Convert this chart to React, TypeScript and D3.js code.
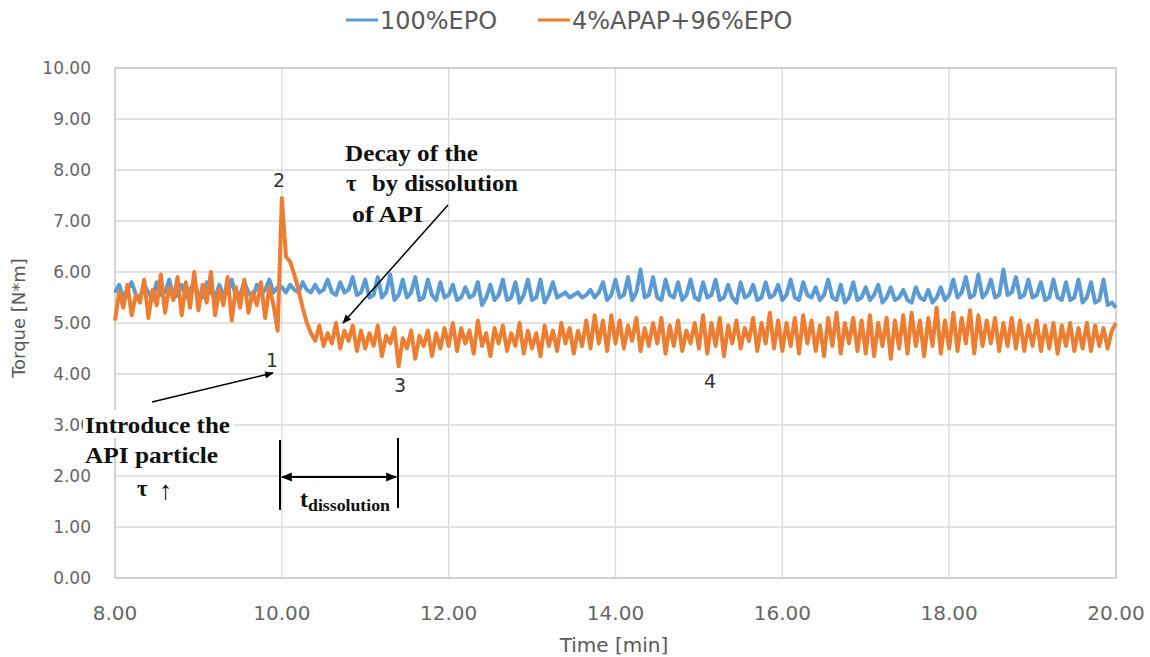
import React from 'react';
import * as d3 from 'd3';

// sampling of both torque traces (minutes)
const startTime = 8;
const timeStep = 0.05;

// 100%EPO torque [N*m], one value every 0.05 min from 8.00 to 20.00
const epoTorque = [
  5.6, 5.75, 5.5, 5.65, 5.8, 5.55, 5.5, 5.75, 5.6, 5.45, 5.8, 5.55, 5.6, 5.85, 5.5, 5.55, 5.75, 5.5, 5.65, 5.8,
  5.55, 5.5, 5.8, 5.6, 5.5, 5.75, 5.55, 5.6, 5.85, 5.5, 5.55, 5.8, 5.6, 5.5, 5.75, 5.55, 5.65, 5.85, 5.6, 5.7,
  5.7, 5.6, 5.75, 5.65, 5.6, 5.8, 5.65, 5.6, 5.75, 5.6, 5.65, 5.85, 5.6, 5.55, 5.8, 5.6, 5.65, 5.9, 5.55, 5.6,
  5.85, 5.5, 5.55, 5.9, 5.5, 5.6, 5.95, 5.45, 5.55, 5.85, 5.5, 5.6, 5.9, 5.45, 5.5, 5.85, 5.55, 5.45, 5.8, 5.5,
  5.55, 5.75, 5.45, 5.5, 5.7, 5.5, 5.55, 5.8, 5.35, 5.5, 5.75, 5.45, 5.55, 5.85, 5.45, 5.5, 5.8, 5.4, 5.55, 5.85,
  5.45, 5.5, 5.85, 5.4, 5.55, 5.8, 5.5, 5.55, 5.6, 5.5, 5.55, 5.6, 5.5, 5.55, 5.65, 5.5, 5.6, 5.8, 5.45, 5.55,
  5.85, 5.5, 5.55, 5.9, 5.45, 5.6, 6.05, 5.5, 5.55, 5.9, 5.5, 5.45, 5.85, 5.55, 5.5, 5.8, 5.45, 5.55, 5.85, 5.5,
  5.45, 5.8, 5.5, 5.55, 5.85, 5.45, 5.5, 5.75, 5.5, 5.4, 5.8, 5.5, 5.55, 5.75, 5.45, 5.5, 5.8, 5.5, 5.55, 5.75,
  5.45, 5.55, 5.85, 5.5, 5.45, 5.8, 5.55, 5.5, 5.7, 5.45, 5.55, 5.85, 5.5, 5.45, 5.75, 5.4, 5.5, 5.8, 5.45, 5.5,
  5.7, 5.45, 5.55, 5.75, 5.4, 5.5, 5.7, 5.45, 5.5, 5.65, 5.45, 5.4, 5.7, 5.5, 5.45, 5.65, 5.4, 5.5, 5.7, 5.45,
  5.55, 5.85, 5.5, 5.6, 5.9, 5.5, 5.55, 5.95, 5.5, 5.6, 5.85, 5.5, 5.55, 6.05, 5.55, 5.6, 5.9, 5.5, 5.55, 5.85,
  5.5, 5.55, 5.8, 5.45, 5.5, 5.85, 5.5, 5.45, 5.8, 5.45, 5.5, 5.85, 5.4, 5.5, 5.8, 5.4, 5.45, 5.85, 5.35, 5.4,
  5.3,
];

// 4%APAP+96%EPO torque [N*m], same sampling
const apapTorque = [
  5.05, 5.6, 5.3, 5.75, 5.15, 5.55, 5.4, 5.85, 5.1, 5.65, 5.35, 5.95, 5.2, 5.7, 5.45, 5.9, 5.15, 5.8, 5.3, 6.0,
  5.25, 5.75, 5.4, 6.0, 5.15, 5.65, 5.35, 5.9, 5.05, 5.7, 5.3, 5.85, 5.2, 5.6, 5.35, 5.8, 5.1, 5.7, 5.35, 4.85,
  7.45, 6.3, 6.2, 5.95, 5.65, 5.3, 5.0, 4.8, 4.65, 4.95, 4.55, 4.8, 4.6, 5.0, 4.5, 4.85, 4.65, 4.95, 4.45, 4.85,
  4.5, 4.8, 4.55, 4.95, 4.35, 4.75, 4.6, 4.9, 4.15, 4.7, 4.5, 4.85, 4.3, 4.75, 4.55, 4.85, 4.35, 4.8, 4.5, 4.9,
  4.55, 5.0, 4.45, 4.9, 4.6, 4.85, 4.4, 5.05, 4.55, 4.8, 4.35, 4.9, 4.6, 4.95, 4.45, 4.8, 4.55, 5.0, 4.4, 4.85,
  4.5, 4.8, 4.35, 4.95, 4.55, 4.85, 4.45, 5.0, 4.6, 4.9, 4.4, 4.85, 4.55, 5.05, 4.5, 5.15, 4.6, 5.05, 4.45, 5.15,
  4.6, 5.05, 4.5, 4.95, 4.65, 5.1, 4.45, 4.9, 4.55, 5.0, 4.6, 5.1, 4.4, 4.95, 4.55, 5.05, 4.45, 4.85, 4.6, 5.0,
  4.5, 5.15, 4.4, 5.0, 4.55, 5.1, 4.35, 4.95, 4.6, 5.05, 4.5, 4.9, 4.65, 5.1, 4.45, 5.0, 4.6, 5.2, 4.5, 5.05,
  4.45, 5.0, 4.55, 5.1, 4.4, 5.15, 4.6, 5.05, 4.45, 4.95, 4.35, 5.1, 4.55, 5.2, 4.4, 5.0, 4.6, 5.1, 4.45, 5.05,
  4.4, 5.15, 4.35, 5.0, 4.55, 5.1, 4.3, 5.05, 4.5, 5.15, 4.4, 5.2, 4.55, 5.05, 4.35, 5.1, 4.55, 5.3, 4.4, 5.05,
  4.5, 5.2, 4.45, 5.1, 4.6, 5.25, 4.4, 5.15, 4.55, 5.05, 4.6, 5.1, 4.45, 5.0, 4.55, 5.1, 4.5, 5.05, 4.45, 4.95,
  4.55, 5.05, 4.45, 4.95, 4.5, 5.0, 4.4, 4.95, 4.55, 5.0, 4.45, 4.9, 4.5, 5.0, 4.45, 4.95, 4.55, 4.9, 4.5, 4.85,
  5.0,
];

const seriesNames = ['100%EPO', '4%APAP+96%EPO'];
const seriesColors = ['#5b9bd5', '#ed7d31'];
const seriesWidths = [4, 4];
const xTickValues = [8, 10, 12, 14, 16, 18, 20];
const yTickValues = [0, 1, 2, 3, 4, 5, 6, 7, 8, 9, 10];

const W = 1150;
const H = 657;
const plot = { left: 115, right: 1116, top: 68, bottom: 578 };

const sansFont = '"DejaVu Sans", sans-serif';
const serifFont = '"Liberation Serif", "Times New Roman", serif';

export default function App() {
  const x = d3.scaleLinear().domain([8, 20]).range([plot.left, plot.right]);
  const y = d3.scaleLinear().domain([0, 10]).range([plot.bottom, plot.top]);

  const line = d3.line<number>()
    .x((_, i) => x(startTime + i * timeStep))
    .y(d => y(d));

  const series = [epoTorque, apapTorque];

  return (
    <svg width={W} height={H} style={{ position: 'absolute', left: 0, top: 0, background: '#fff' }}>
      <defs>
        <marker id="head" viewBox="0 0 10 10" refX="9" refY="5" markerWidth="9" markerHeight="9"
          markerUnits="userSpaceOnUse" orient="auto-start-reverse">
          <path d="M0,1 L10,5 L0,9 z" fill="#000" />
        </marker>
        <marker id="headBig" viewBox="0 0 10 10" refX="9" refY="5" markerWidth="13" markerHeight="11"
          markerUnits="userSpaceOnUse" orient="auto-start-reverse">
          <path d="M0,1 L10,5 L0,9 z" fill="#000" />
        </marker>
      </defs>

      {/* legend */}
      <g fontFamily={sansFont} fontSize={24} fill="#595959">
        {seriesNames.map((name, i) => {
          const lx = i === 0 ? 346 : 538;
          return (
            <g key={name}>
              <line x1={lx} x2={lx + 32} y1={20} y2={20} stroke={seriesColors[i]} strokeWidth={3} />
              <text x={lx + 34} y={29}>{name}</text>
            </g>
          );
        })}
      </g>

      {/* grid */}
      <g stroke="#d9d9d9" strokeWidth={1.3}>
        {yTickValues.map(t => (
          <line key={'h' + t} x1={plot.left} x2={plot.right} y1={y(t)} y2={y(t)} />
        ))}
        {xTickValues.map(t => (
          <line key={'v' + t} x1={x(t)} x2={x(t)} y1={plot.top} y2={plot.bottom} />
        ))}
      </g>
      <rect x={plot.left} y={plot.top} width={plot.right - plot.left} height={plot.bottom - plot.top}
        fill="none" stroke="#c8c8c8" strokeWidth={1.3} />

      {/* tick labels */}
      <g fontFamily={sansFont} fontSize={17} fill="#666" textAnchor="end">
        {yTickValues.map(t => (
          <text key={t} x={91} y={y(t) + 6}>{t.toFixed(2)}</text>
        ))}
      </g>
      <g fontFamily={sansFont} fontSize={20} fill="#666" textAnchor="middle">
        {xTickValues.map(t => (
          <text key={t} x={x(t)} y={620}>{t.toFixed(2)}</text>
        ))}
      </g>

      {/* axis titles */}
      <text x={614} y={652} textAnchor="middle" fontFamily={sansFont} fontSize={20} fill="#595959">Time [min]</text>
      <text transform="translate(25,318) rotate(-90)" textAnchor="middle" fontFamily={sansFont} fontSize={18} fill="#595959">
        Torque [N*m]
      </text>

      {/* traces */}
      {series.map((vals, i) => (
        <path key={seriesNames[i]} d={line(vals) || ''} fill="none" stroke={seriesColors[i]}
          strokeWidth={seriesWidths[i]} strokeLinejoin="round" />
      ))}

      {/* point numbers */}
      <g fontFamily={sansFont} fontSize={19} fill="#333" textAnchor="middle">
        <text x={272} y={367}>1</text>
        <text x={279} y={187}>2</text>
        <text x={400} y={392}>3</text>
        <text x={710} y={388}>4</text>
      </g>

      {/* annotations */}
      <line x1={448} y1={205} x2={343} y2={323} stroke="#000" strokeWidth={1.5} markerEnd="url(#head)" />
      <line x1={152} y1={402} x2={273} y2={373} stroke="#000" strokeWidth={1.5} markerEnd="url(#head)" />

      <g fontFamily={serifFont} fontWeight="bold" fontSize={23} fill="#111">
        <text x={345} y={161} textLength={133} lengthAdjust="spacingAndGlyphs">Decay of the</text>
        <text x={346} y={191}>τ</text>
        <text x={372} y={191} textLength={146} lengthAdjust="spacingAndGlyphs">by dissolution</text>
        <text x={352} y={222} textLength={71} lengthAdjust="spacingAndGlyphs">of API</text>

        <rect x={83} y={410} width={150} height={28} fill="#fff" />
        <text x={85} y={433} textLength={145} lengthAdjust="spacingAndGlyphs">Introduce the</text>
        <text x={85} y={463} textLength={133} lengthAdjust="spacingAndGlyphs">API particle</text>
        <text x={137} y={496}>τ</text>
        <text x={159} y={499} fontWeight="normal" fontSize={26}>↑</text>

        <text x={300} y={507}>
          <tspan fontSize={24}>t</tspan>
          <tspan fontSize={17} dy={4} textLength={82} lengthAdjust="spacingAndGlyphs">dissolution</tspan>
        </text>
      </g>

      <line x1={280} x2={280} y1={440} y2={510} stroke="#000" strokeWidth={2} />
      <line x1={398} x2={398} y1={438} y2={508} stroke="#000" strokeWidth={2} />
      <line x1={282} x2={396} y1={477} y2={477} stroke="#000" strokeWidth={2}
        markerStart="url(#headBig)" markerEnd="url(#headBig)" />
    </svg>
  );
}
